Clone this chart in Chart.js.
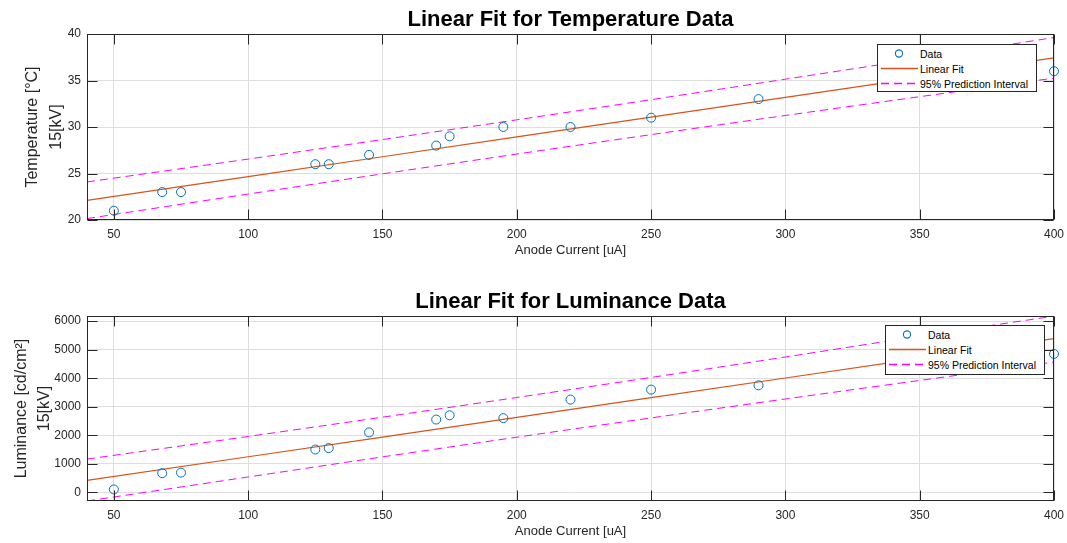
<!DOCTYPE html>
<html>
<head>
<meta charset="utf-8">
<script src="https://cdn.jsdelivr.net/npm/chart.js@4.4.1/dist/chart.umd.min.js"></script>
<style>
  body { margin: 0; background: #fff; font-family: "Liberation Sans", Arial, sans-serif; }
  #wrap { position: relative; width: 1067px; height: 543px; }
  .box { position: absolute; left: 0; width: 1067px; }
  .legend { position: absolute; background: #fff; border: 1px solid #262626; box-sizing: border-box;
            font-size: 10.5px; color: #000; padding-top: 1px; }
  .legend .row { height: 15px; display: flex; align-items: center; }
  .legend svg { width: 42px; height: 15px; flex: none; }
</style>
</head>
<body>
<div id="wrap">
  <div class="box" style="top:0;height:270px"><canvas id="tempChart"></canvas></div>
  <div class="box" style="top:282px;height:261px"><canvas id="lumChart"></canvas></div>
  <div class="legend" id="legTemp" style="left:877px;top:44px;width:160px;height:48px"></div>
  <div class="legend" id="legLum" style="left:885px;top:325px;width:160px;height:50px"></div>
</div>
<script>
// values
const current = [50, 68, 75, 125, 130, 145, 170, 175, 195, 220, 250, 290, 400];
const temperature = [21, 23, 23, 26, 26, 27, 28, 29, 30, 30, 31, 33, 36];
const luminance = [100, 670, 690, 1500, 1550, 2100, 2550, 2700, 2600, 3250, 3600, 3750, 4850];

// fit line and 95% prediction bounds, sampled along x
const fitX = [40, 100, 150, 200, 250, 300, 350, 400];
const tempFit = [22.12, 24.67, 26.80, 28.93, 31.06, 33.19, 35.31, 37.44];
const tempUpper = [24.09, 26.55, 28.65, 30.77, 32.94, 35.14, 37.36, 39.62];
const tempLower = [20.15, 22.79, 24.96, 27.09, 29.18, 31.24, 33.26, 35.26];
const lumFit = [419, 1247, 1937, 2627, 3317, 4007, 4697, 5387];
const lumUpper = [1164, 1957, 2633, 3323, 4026, 4743, 5472, 6175];
const lumLower = [-305, 537, 1241, 1931, 2608, 3271, 3922, 4567];

const currentTicks = [50, 100, 150, 200, 250, 300, 350, 400];
const tempTicks = [20, 25, 30, 35, 40];
const lumTicks = [0, 1000, 2000, 3000, 4000, 5000, 6000];

const blue = '#0072BD';
const orange = '#D95319';
const magenta = '#FF00FF';
const axisCol = '#262626';

// MATLAB style box with inward tick marks
const boxPlugin = {
  id: 'box',
  afterDraw(chart) {
    const {ctx, chartArea: a, scales: {x, y}} = chart;
    const L = Math.round(a.left) + 0.5, R = Math.round(a.right) - 0.5;
    const T = Math.round(a.top) + 0.5, B = Math.round(a.bottom) - 0.5;
    ctx.save();
    ctx.strokeStyle = axisCol;
    ctx.lineWidth = 1;
    ctx.beginPath();
    x.ticks.forEach(t => {
      const px = Math.round(x.getPixelForValue(t.value)) + 0.5;
      ctx.moveTo(px, B); ctx.lineTo(px, B - 10);
      ctx.moveTo(px, T); ctx.lineTo(px, T + 10);
    });
    y.ticks.forEach(t => {
      const py = Math.round(y.getPixelForValue(t.value)) + 0.5;
      ctx.moveTo(L, py); ctx.lineTo(L + 10, py);
      ctx.moveTo(R, py); ctx.lineTo(R - 10, py);
    });
    ctx.stroke();
    ctx.strokeRect(L, T, R - L, B - T);
    ctx.restore();
  }
};

function pts(xs, ys) {
  return xs.map((v, i) => ({x: v, y: ys[i]}));
}

function makeChart(id, title, yTitle, yTitlePad, yTitleLH, yVals, fit, upper, lower, yMin, yMax, yTicks, padBottom) {
  return new Chart(document.getElementById(id), {
    type: 'scatter',
    data: {
      datasets: [
        {
          label: 'Data',
          data: pts(current, yVals),
          pointStyle: 'circle',
          pointRadius: 4.5,
          borderColor: blue,
          backgroundColor: 'rgba(0,0,0,0)',
          pointBorderWidth: 1,
          clip: false
        },
        {
          label: 'Linear Fit',
          data: pts(fitX, fit),
          showLine: true,
          borderColor: orange,
          borderWidth: 1.2,
          pointRadius: 0
        },
        {
          label: '95% Prediction Interval',
          data: pts(fitX, upper),
          showLine: true,
          borderColor: magenta,
          borderWidth: 1,
          borderDash: [8, 5],
          cubicInterpolationMode: 'monotone',
          pointRadius: 0
        },
        {
          label: 'lower',
          data: pts(fitX, lower),
          showLine: true,
          borderColor: magenta,
          borderWidth: 1,
          borderDash: [8, 5],
          cubicInterpolationMode: 'monotone',
          pointRadius: 0
        }
      ]
    },
    options: {
      responsive: true,
      maintainAspectRatio: false,
      animation: false,
      layout: { padding: { left: 0, right: 13, top: 0, bottom: padBottom } },
      plugins: {
        legend: { display: false },
        tooltip: { enabled: false },
        title: {
          display: true,
          text: title,
          fullSize: false,
          color: '#000',
          font: { family: 'Liberation Sans', size: 22, weight: 'bold', lineHeight: 1.2 },
          padding: { top: 7, bottom: 0.6 }
        }
      },
      scales: {
        x: {
          type: 'linear',
          min: 40,
          max: 400,
          afterBuildTicks: s => { s.ticks = currentTicks.map(v => ({value: v})); },
          afterFit: s => { s.height = 38; s.paddingLeft = 0; s.paddingRight = 0; },
          grid: { color: '#dedede', drawTicks: false },
          border: { display: false },
          ticks: { color: axisCol, padding: 7, font: { family: 'Liberation Sans', size: 12 },
                   callback: v => String(v) },
          title: {
            display: true,
            text: 'Anode Current [uA]',
            color: axisCol,
            padding: 0,
            font: { family: 'Liberation Sans', size: 13 }
          }
        },
        y: {
          min: yMin,
          max: yMax,
          afterBuildTicks: s => { s.ticks = yTicks.map(v => ({value: v})); },
          afterFit: s => { s.width = 87; },
          grid: { color: '#dedede', drawTicks: false },
          border: { display: false },
          ticks: { color: axisCol, padding: 6, font: { family: 'Liberation Sans', size: 12 },
                   callback: v => String(v) },
          title: {
            display: true,
            text: yTitle,
            color: axisCol,
            padding: { top: yTitlePad, bottom: 0 },
            font: { family: 'Liberation Sans', size: 16, lineHeight: yTitleLH }
          }
        }
      }
    },
    plugins: [boxPlugin]
  });
}

makeChart('tempChart', 'Linear Fit for Temperature Data', ['Temperature [°C]', '15[kV]'], 21, 1.5,
  temperature, tempFit, tempUpper, tempLower, 20, 40, tempTicks, 12);
makeChart('lumChart', 'Linear Fit for Luminance Data', ['Luminance [cd/cm²]', '15[kV]'], 10.5, 1.4,
  luminance, lumFit, lumUpper, lumLower, -305, 6180, lumTicks, 4);

// legends (same look in both panels)
const legendItems = [
  { text: 'Data', sym: `<circle cx="21" cy="7.5" r="3.6" fill="none" stroke="${blue}" stroke-width="1.1"/>` },
  { text: 'Linear Fit', sym: `<line x1="3" y1="7.5" x2="40" y2="7.5" stroke="${orange}" stroke-width="1.5"/>` },
  { text: '95% Prediction Interval', sym: `<line x1="3" y1="7.5" x2="40" y2="7.5" stroke="${magenta}" stroke-width="1.4" stroke-dasharray="8 5"/>` }
];
['legTemp', 'legLum'].forEach(id => {
  document.getElementById(id).innerHTML = legendItems.map(it =>
    `<div class="row"><svg viewBox="0 0 42 15">${it.sym}</svg><span>${it.text}</span></div>`).join('');
});
</script>
</body>
</html>
